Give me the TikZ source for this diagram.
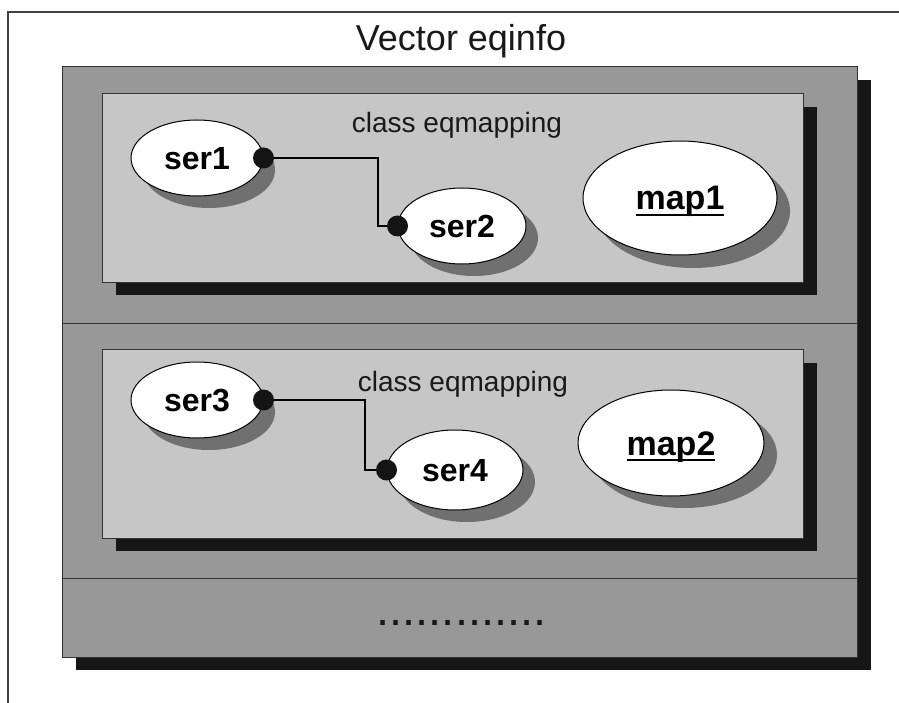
\documentclass[tikz,border=0pt]{standalone}
\usepackage{fontspec}
\setmainfont{Liberation Sans}
\usetikzlibrary{shapes.geometric}

\definecolor{panelgray}{RGB}{152,152,152}
\definecolor{innergray}{RGB}{198,198,198}
\definecolor{ovalshade}{RGB}{112,112,112}
\definecolor{shadowblack}{RGB}{22,22,22}

% bold label with a thick underline
\newcommand\thickul[1]{\setbox0\hbox{#1}\rlap{\rule[-0.19em]{\wd0}{0.085em}}\box0}

\tikzset{
  frameline/.style={draw=black!75, line width=1.3pt},
  boxshadow/.style={fill=shadowblack},
  panel/.style={fill=panelgray, draw=black!80, line width=0.8pt},
  classbox/.style={fill=innergray, draw=black!80, line width=0.8pt},
  oval/.style={ellipse, draw=black, line width=1pt, fill=white, inner sep=0pt,
    font=\fontsize{32}{36}\selectfont\bfseries, text height=23pt, text depth=0pt},
  bigoval/.style={oval, font=\fontsize{34}{38}\selectfont\bfseries, text height=24pt},
  ovalshadow/.style={ellipse, fill=ovalshade, inner sep=0pt},
  port/.style={circle, fill=black!92, minimum size=21pt, inner sep=0pt},
  wire/.style={draw=black, line width=1.3pt},
  caption/.style={anchor=base, inner sep=0pt, text=black!90},
}

\begin{document}
\begin{tikzpicture}[x=1pt, y=-1pt]
  \useasboundingbox (0,0) rectangle (899,703);
  \clip (0,0) rectangle (899,703);
  \fill[white] (0,0) rectangle (899,703);

  % outer frame
  \draw[frameline] (8,12) rectangle (930,730);

  % title
  \node[caption, font=\fontsize{36}{42}\selectfont] (title) at (461,51) {Vector eqinfo};

  % vector panel with its drop shadow and slot dividers
  \fill[boxshadow] (76,80) rectangle (871,670);
  \draw[panel] (62,66) rectangle (857,657);
  \draw[black!80, line width=0.8pt] (62,323) -- (857,323);
  \draw[black!80, line width=0.8pt] (62,578) -- (857,578);

  % first eqmapping
  \fill[boxshadow] (116,107) rectangle (817,295);
  \draw[classbox] (102,93) rectangle (803,282);
  \node[caption, font=\fontsize{28}{32}\selectfont] (cls1) at (457,133) {class eqmapping};

  \node[ovalshadow, minimum width=132pt, minimum height=76pt] (ser1s) at (209,170) {};
  \node[ovalshadow, minimum width=128pt, minimum height=76pt] (ser2s) at (474,238) {};
  \node[ovalshadow, minimum width=194pt, minimum height=114pt] (map1s) at (693,211) {};
  \node[oval, minimum width=132pt, minimum height=76pt] (ser1) at (197,158) {ser1};
  \node[oval, minimum width=128pt, minimum height=76pt] (ser2) at (462,226) {ser2};
  \node[bigoval, minimum width=194pt, minimum height=114pt] (map1) at (680,198) {\thickul{map1}};

  \coordinate (k1) at (378,158);
  \draw[wire] (ser1.east) -- (k1) |- (ser2.west);
  \node[port] (p1) at (ser1.east) {};
  \node[port] (p2) at (ser2.west) {};

  % second eqmapping
  \fill[boxshadow] (116,363) rectangle (817,551);
  \draw[classbox] (102,349) rectangle (803,538);
  \node[caption, font=\fontsize{28}{32}\selectfont] (cls2) at (463,391) {class eqmapping};

  \node[ovalshadow, minimum width=132pt, minimum height=76pt] (ser3s) at (209,412) {};
  \node[ovalshadow, minimum width=136pt, minimum height=80pt] (ser4s) at (467,482) {};
  \node[ovalshadow, minimum width=186pt, minimum height=106pt] (map2s) at (684,455) {};
  \node[oval, minimum width=132pt, minimum height=76pt] (ser3) at (197,400) {ser3};
  \node[oval, minimum width=136pt, minimum height=80pt] (ser4) at (455,470) {ser4};
  \node[bigoval, minimum width=186pt, minimum height=106pt] (map2) at (671,443) {\thickul{map2}};

  \coordinate (k2) at (365,400);
  \draw[wire] (ser3.east) -- (k2) |- (ser4.west);
  \node[port] (p3) at (ser3.east) {};
  \node[port] (p4) at (ser4.west) {};

  % remaining slots
  \node[caption, font=\fontsize{47}{50}\selectfont] (more) at (461.5,625) {.............};
\end{tikzpicture}
\end{document}
